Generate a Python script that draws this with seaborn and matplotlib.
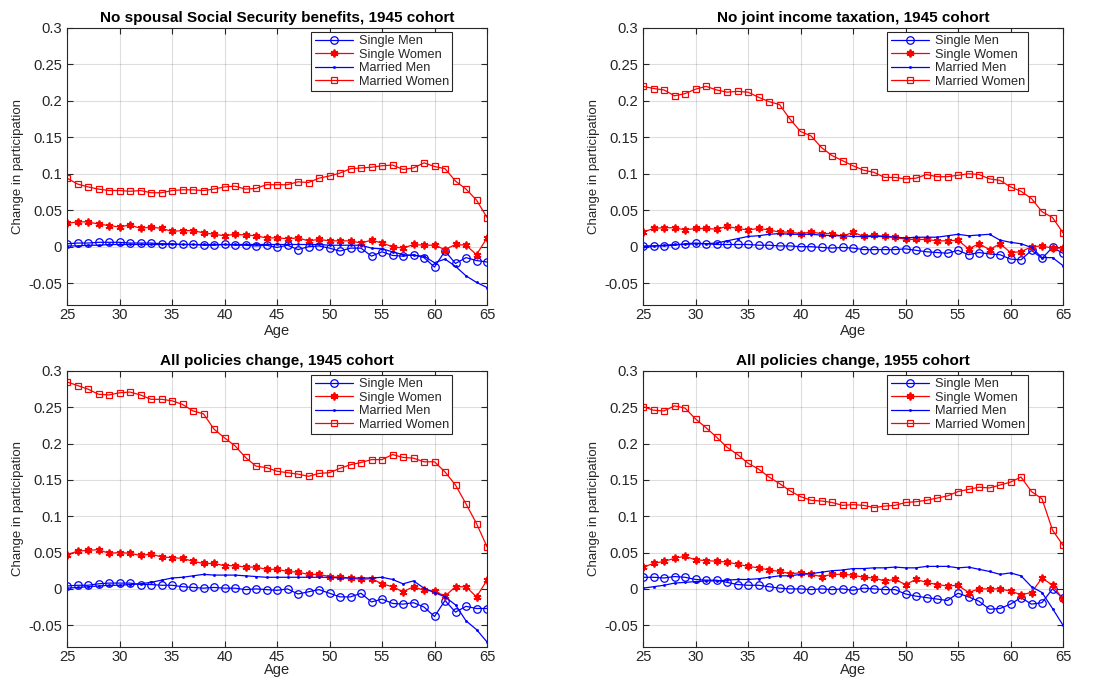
import numpy as np
import pandas as pd
import matplotlib
matplotlib.use("Agg")
import matplotlib.pyplot as plt
import seaborn as sns

ages = list(range(25, 66))

# --- No spousal Social Security benefits, 1945 cohort ---
p1_single_men = [0.004, 0.005, 0.005, 0.006, 0.006, 0.006, 0.005, 0.005, 0.005, 0.004,
                 0.004, 0.003, 0.003, 0.002, 0.002, 0.003, 0.002, 0.002, 0.001, 0.002,
                 -0.001, 0.002, -0.004, 0.000, 0.001, -0.002, -0.006, -0.002, -0.002, -0.013,
                 -0.007, -0.012, -0.013, -0.011, -0.015, -0.028, -0.006, -0.023, -0.015, -0.019,
                 -0.021]
p1_single_women = [0.032, 0.034, 0.034, 0.031, 0.029, 0.027, 0.030, 0.025, 0.027, 0.025,
                   0.021, 0.022, 0.022, 0.019, 0.017, 0.015, 0.017, 0.016, 0.015, 0.012,
                   0.012, 0.011, 0.012, 0.008, 0.010, 0.008, 0.008, 0.008, 0.005, 0.009,
                   0.005, 0.000, -0.002, 0.003, 0.002, 0.002, -0.004, 0.003, 0.002, -0.011,
                   0.012]
p1_married_men = [0.001, 0.001, 0.002, 0.002, 0.003, 0.003, 0.003, 0.003, 0.003, 0.003,
                  0.003, 0.003, 0.003, 0.003, 0.003, 0.003, 0.003, 0.003, 0.003, 0.003,
                  0.003, 0.003, 0.003, 0.003, 0.003, 0.002, 0.002, 0.002, 0.002, -0.002,
                  -0.003, -0.007, -0.011, -0.012, -0.013, -0.022, -0.017, -0.027, -0.040, -0.049,
                  -0.056]
p1_married_women = [0.094, 0.086, 0.082, 0.079, 0.077, 0.077, 0.076, 0.077, 0.074, 0.074,
                    0.077, 0.078, 0.078, 0.077, 0.079, 0.082, 0.083, 0.079, 0.080, 0.085,
                    0.085, 0.085, 0.089, 0.088, 0.094, 0.097, 0.101, 0.107, 0.108, 0.109,
                    0.111, 0.112, 0.106, 0.108, 0.115, 0.110, 0.107, 0.090, 0.079, 0.064,
                    0.040]

# --- No joint income taxation, 1945 cohort ---
p2_single_men = [0.001, 0.001, 0.001, 0.002, 0.004, 0.005, 0.004, 0.003, 0.003, 0.003,
                 0.003, 0.002, 0.002, 0.001, 0.001, 0.000, 0.000, -0.001, -0.002, -0.001,
                 -0.002, -0.004, -0.004, -0.004, -0.004, -0.003, -0.005, -0.007, -0.008, -0.009,
                 -0.005, -0.011, -0.008, -0.010, -0.011, -0.017, -0.018, -0.005, -0.016, -0.001,
                 -0.009]
p2_single_women = [0.020, 0.025, 0.026, 0.026, 0.023, 0.025, 0.025, 0.024, 0.028, 0.025,
                   0.023, 0.025, 0.023, 0.020, 0.020, 0.018, 0.020, 0.018, 0.018, 0.014,
                   0.020, 0.014, 0.016, 0.014, 0.013, 0.010, 0.010, 0.010, 0.008, 0.008,
                   0.009, -0.003, 0.004, -0.004, 0.004, -0.008, -0.007, 0.000, 0.001, -0.002,
                   -0.002]
p2_married_men = [0.000, 0.001, 0.002, 0.003, 0.003, 0.004, 0.004, 0.005, 0.008, 0.011,
                  0.014, 0.015, 0.017, 0.018, 0.017, 0.017, 0.017, 0.016, 0.015, 0.015,
                  0.014, 0.014, 0.014, 0.014, 0.013, 0.012, 0.013, 0.013, 0.013, 0.015,
                  0.017, 0.015, 0.016, 0.017, 0.009, 0.006, 0.004, -0.001, -0.015, -0.015,
                  -0.026]
p2_married_women = [0.220, 0.217, 0.215, 0.207, 0.210, 0.216, 0.220, 0.215, 0.212, 0.213,
                    0.212, 0.205, 0.199, 0.195, 0.175, 0.158, 0.152, 0.136, 0.125, 0.118,
                    0.111, 0.105, 0.102, 0.095, 0.095, 0.093, 0.094, 0.099, 0.096, 0.096,
                    0.098, 0.100, 0.099, 0.093, 0.091, 0.082, 0.076, 0.066, 0.048, 0.040,
                    0.019]

# --- All policies change, 1945 cohort ---
p3_single_men = [0.004, 0.005, 0.005, 0.007, 0.008, 0.008, 0.008, 0.006, 0.006, 0.005,
                 0.005, 0.003, 0.002, 0.001, 0.002, 0.001, 0.001, -0.001, 0.000, -0.001,
                 -0.002, 0.000, -0.007, -0.004, -0.001, -0.006, -0.011, -0.011, -0.006, -0.018,
                 -0.014, -0.020, -0.021, -0.019, -0.025, -0.038, -0.016, -0.032, -0.024, -0.027,
                 -0.027]
p3_single_women = [0.047, 0.052, 0.053, 0.054, 0.049, 0.050, 0.049, 0.046, 0.048, 0.044,
                   0.043, 0.042, 0.038, 0.035, 0.035, 0.032, 0.032, 0.030, 0.030, 0.027,
                   0.027, 0.024, 0.023, 0.020, 0.020, 0.017, 0.016, 0.015, 0.013, 0.014,
                   0.007, 0.003, -0.004, 0.003, -0.002, -0.003, -0.010, 0.003, 0.003, -0.011,
                   0.012]
p3_married_men = [0.001, 0.002, 0.003, 0.004, 0.005, 0.005, 0.006, 0.007, 0.009, 0.012,
                  0.015, 0.016, 0.018, 0.020, 0.019, 0.019, 0.019, 0.018, 0.017, 0.016,
                  0.016, 0.016, 0.016, 0.016, 0.016, 0.016, 0.015, 0.015, 0.015, 0.015,
                  0.016, 0.013, 0.007, 0.011, 0.001, -0.005, -0.011, -0.022, -0.044, -0.056,
                  -0.073]
p3_married_women = [0.285, 0.280, 0.275, 0.268, 0.267, 0.270, 0.271, 0.267, 0.261, 0.261,
                    0.259, 0.254, 0.245, 0.241, 0.220, 0.208, 0.197, 0.181, 0.169, 0.167,
                    0.162, 0.160, 0.158, 0.155, 0.159, 0.160, 0.166, 0.171, 0.174, 0.178,
                    0.178, 0.185, 0.181, 0.180, 0.175, 0.175, 0.161, 0.143, 0.117, 0.090,
                    0.058]

# --- All policies change, 1955 cohort ---
p4_single_men = [0.016, 0.016, 0.015, 0.017, 0.016, 0.013, 0.012, 0.012, 0.009, 0.006,
                 0.005, 0.005, 0.003, 0.001, 0.000, 0.000, -0.001, 0.000, -0.001, 0.000,
                 -0.002, 0.001, 0.000, -0.001, -0.001, -0.007, -0.010, -0.012, -0.014, -0.016,
                 -0.006, -0.011, -0.017, -0.028, -0.027, -0.021, -0.012, -0.021, -0.019, 0.000,
                 -0.013]
p4_single_women = [0.030, 0.035, 0.038, 0.042, 0.045, 0.040, 0.039, 0.038, 0.037, 0.034,
                   0.031, 0.029, 0.026, 0.024, 0.021, 0.022, 0.020, 0.017, 0.020, 0.020,
                   0.019, 0.016, 0.015, 0.011, 0.013, 0.006, 0.013, 0.009, 0.006, 0.004,
                   0.005, -0.005, 0.000, 0.000, 0.000, -0.003, -0.008, -0.005, 0.015, 0.005,
                   -0.014]
p4_married_men = [0.001, 0.003, 0.005, 0.008, 0.009, 0.010, 0.011, 0.011, 0.012, 0.013,
                  0.013, 0.014, 0.016, 0.018, 0.018, 0.020, 0.021, 0.023, 0.025, 0.026,
                  0.028, 0.028, 0.029, 0.029, 0.030, 0.029, 0.029, 0.031, 0.031, 0.031,
                  0.029, 0.030, 0.027, 0.024, 0.020, 0.022, 0.018, 0.003, -0.005, -0.027,
                  -0.050]
p4_married_women = [0.251, 0.246, 0.245, 0.252, 0.249, 0.234, 0.222, 0.209, 0.195, 0.185,
                    0.173, 0.165, 0.154, 0.145, 0.135, 0.127, 0.122, 0.121, 0.119, 0.115,
                    0.116, 0.115, 0.112, 0.114, 0.115, 0.119, 0.120, 0.122, 0.125, 0.128,
                    0.134, 0.137, 0.140, 0.139, 0.143, 0.147, 0.154, 0.134, 0.124, 0.081,
                    0.060]

titles = [
    "No spousal Social Security benefits, 1945 cohort",
    "No joint income taxation, 1945 cohort",
    "All policies change, 1945 cohort",
    "All policies change, 1955 cohort",
]
group_names = ["Single Men", "Single Women", "Married Men", "Married Women"]
panels = [
    [p1_single_men, p1_single_women, p1_married_men, p1_married_women],
    [p2_single_men, p2_single_women, p2_married_men, p2_married_women],
    [p3_single_men, p3_single_women, p3_married_men, p3_married_women],
    [p4_single_men, p4_single_women, p4_married_men, p4_married_women],
]
y_ticks = [-0.05, 0, 0.05, 0.1, 0.15, 0.2, 0.25, 0.3]
y_tick_labels = ["-0.05", "0", "0.05", "0.1", "0.15", "0.2", "0.25", "0.3"]
x_ticks = [25, 30, 35, 40, 45, 50, 55, 60, 65]

sns.set_style("white")
plt.rcParams["font.family"] = ["Liberation Sans", "DejaVu Sans"]

BLUE = (0, 0, 1)
RED = (1, 0, 0)
styles = {
    "Single Men": dict(color=BLUE, marker="o", markersize=5.4, markerfacecolor="none",
                       markeredgecolor=BLUE, markeredgewidth=0.9),
    "Single Women": dict(color=RED, marker=(6, 2, 0), markersize=5.6,
                         markeredgecolor=RED, markeredgewidth=1.3),
    "Married Men": dict(color=BLUE, marker=".", markersize=3,
                        markeredgecolor=BLUE, markerfacecolor=BLUE, markeredgewidth=0.5),
    "Married Women": dict(color=RED, marker="s", markersize=4.8, markerfacecolor="none",
                          markeredgecolor=RED, markeredgewidth=0.9),
}

fig = plt.figure(figsize=(10.96, 6.83), dpi=100)
W, H = 1096, 683
boxes = [(67, 28, 487, 305), (643, 28, 1063, 305),
         (67, 371, 487, 647), (643, 371, 1063, 647)]
axis_col = (0.15, 0.15, 0.15)

for i, (box, title, series) in enumerate(zip(boxes, titles, panels)):
    x0, y0, x1, y1 = box
    ax = fig.add_axes([x0 / W, 1 - y1 / H, (x1 - x0) / W, (y1 - y0) / H])
    for name, vals in zip(group_names, series):
        sns.lineplot(x=ages, y=vals, ax=ax, label=name, linewidth=0.9, **styles[name])
    ax.set_xlim(25, 65)
    ax.set_ylim(-0.08, 0.3)
    ax.set_xticks(x_ticks)
    ax.set_yticks(y_ticks)
    ax.set_yticklabels(y_tick_labels)
    ax.grid(True, color=(0.15, 0.15, 0.15), alpha=0.15, linewidth=0.8)
    ax.set_axisbelow(True)
    for sp in ax.spines.values():
        sp.set_color(axis_col)
        sp.set_linewidth(0.8)
        sp.set_visible(True)
    ax.tick_params(direction="in", length=4, width=0.8, top=True, right=True,
                   bottom=True, left=True, colors=axis_col, labelsize=10.6,
                   labelcolor=axis_col)
    ax.tick_params(axis="x", pad=2.5)
    ax.tick_params(axis="y", pad=3.5)
    ax.set_title(title, fontsize=11, fontweight="bold", pad=4, color="black")
    ax.set_xlabel("Age", fontsize=10.5, color=axis_col, labelpad=1 if i < 2 else -1)
    ax.set_ylabel("Change in participation", fontsize=9.5, color=axis_col, labelpad=3)
    leg = ax.legend(loc="upper right", bbox_to_anchor=(0.917, 0.985), fontsize=9.2,
                    frameon=True, fancybox=False, framealpha=1, edgecolor=axis_col,
                    handlelength=3.0, handletextpad=0.45, labelspacing=0.12,
                    borderpad=0.25, numpoints=1, borderaxespad=0)
    leg.get_frame().set_linewidth(0.8)

fig.savefig("out.png", dpi=100)
